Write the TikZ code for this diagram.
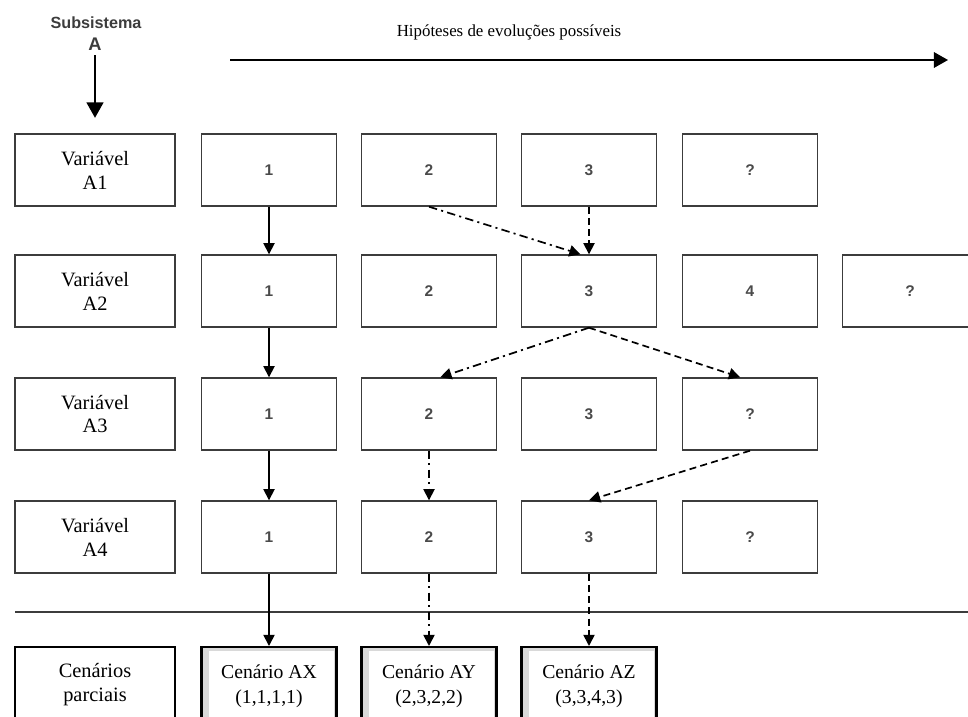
\documentclass[tikz,border=0pt]{standalone}
\usepackage{fontspec}
\setmainfont{Liberation Serif}
\setsansfont{Liberation Sans}
\usetikzlibrary{arrows.meta,calc}
\definecolor{BoxGray}{HTML}{3C3C3C}
\definecolor{ShadeGray}{HTML}{D9D9D9}
\definecolor{DigitGray}{HTML}{4A4A4A}

\begin{document}
\begin{tikzpicture}[x=0.025cm, y=-0.025cm, >={Triangle[length=8pt,width=8pt]},
  varbox/.style={draw=BoxGray, line width=1pt, minimum width=4cm, minimum height=1.8cm,
    align=center, font=\fontsize{14.5}{17}\selectfont},
  hipbox/.style={draw=BoxGray, line width=1pt, minimum width=3.375cm, minimum height=1.8cm,
    font=\sffamily\bfseries\fontsize{11}{12}\selectfont, text=DigitGray},
  cenbox/.style={draw=black, line width=1.6pt, fill=ShadeGray, anchor=north,
    minimum width=3.375cm, minimum height=1.95cm, align=center,
    font=\fontsize{14}{17.5}\selectfont,
    path picture={\fill[white] ([xshift=5pt,yshift=-2.5pt]path picture bounding box.north west)
      rectangle ([xshift=-1.5pt,yshift=1pt]path picture bounding box.south east);}},
  linksolid/.style={->, line width=1.2pt},
  linkdashdot/.style={->, line width=1.2pt, dash pattern=on 6pt off 3pt on 1.5pt off 3pt},
  linkdashed/.style={->, line width=1.2pt, dash pattern=on 5pt off 3pt}]
  \useasboundingbox (0,0) rectangle (968,717);
  \clip (0,0) rectangle (968,717);

  % Subsystem and the axis of possible evolutions
  \node[font=\sffamily\bfseries\fontsize{11.5}{12}\selectfont, text=BoxGray] (subsTitle) at (96,23) {Subsistema};
  \node[font=\sffamily\bfseries\fontsize{13}{14}\selectfont, text=BoxGray] (subsA) at (95,44) {A};
  \coordinate (hipL) at (230,60);
  \coordinate (hipR) at (948,60);
  \draw[->, line width=1.3pt, >={Triangle[length=10pt,width=11pt]}] (hipL) -- (hipR);
  \node[font=\fontsize{12}{14}\selectfont] (hipTitle) at (509,32) {Hipóteses de evoluções possíveis};

  % Variables of subsystem A
  \foreach \r/\y in {1/170,2/291,3/414,4/537}
    \node[varbox] (var\r) at (95,\y) {Variável\\A\r};

  % Hypotheses for each variable
  \foreach \c/\x/\t in {1/269/1,2/429/2,3/589/3,4/750/?}
    \node[hipbox] (h1\c) at (\x,170) {\t};
  \foreach \c/\x/\t in {1/269/1,2/429/2,3/589/3,4/750/4,5/910/?}
    \node[hipbox] (h2\c) at (\x,291) {\t};
  \foreach \c/\x/\t in {1/269/1,2/429/2,3/589/3,4/750/?}
    \node[hipbox] (h3\c) at (\x,414) {\t};
  \foreach \c/\x/\t in {1/269/1,2/429/2,3/589/3,4/750/?}
    \node[hipbox] (h4\c) at (\x,537) {\t};

  % Partial scenarios
  \coordinate (sepL) at (15,612);
  \coordinate (sepR) at (968,612);
  \draw[BoxGray, line width=0.8pt] (sepL) -- (sepR);
  \node[varbox, anchor=north, line width=1.4pt, draw=black, minimum height=1.95cm,
    text depth=1.2ex] (cen0) at (95,646) {Cenários\\parciais};
  \node[cenbox] (cenX) at (269,646) {Cenário AX\\(1,1,1,1)};
  \node[cenbox] (cenY) at (429,646) {Cenário AY\\(2,3,2,2)};
  \node[cenbox] (cenZ) at (589,646) {Cenário AZ\\(3,3,4,3)};

  % Paths through the hypotheses
  \draw[linksolid, line width=1.4pt, >={Triangle[length=11pt,width=12pt]}, shorten >=11pt] (subsA) -- (var1);
  \draw[linksolid] (h11) -- (h21);
  \draw[linksolid] (h21) -- (h31);
  \draw[linksolid] (h31) -- (h41);
  \draw[linksolid] (h41) -- (cenX);
  \draw[linkdashdot] (h12.south) -- ([xshift=-6pt]h23.north);
  \draw[linkdashed] (h13) -- (h23);
  \draw[linkdashdot] (h23.south) -- ([xshift=8pt]h32.north);
  \draw[linkdashed] (h23.south) -- ([xshift=-7pt]h34.north);
  \draw[linkdashdot] (h32) -- (h42);
  \draw[linkdashed] (h34.south) -- (h43.north);
  \draw[linkdashdot] (h42) -- (cenY);
  \draw[linkdashed] (h43) -- (cenZ);
\end{tikzpicture}
\end{document}
